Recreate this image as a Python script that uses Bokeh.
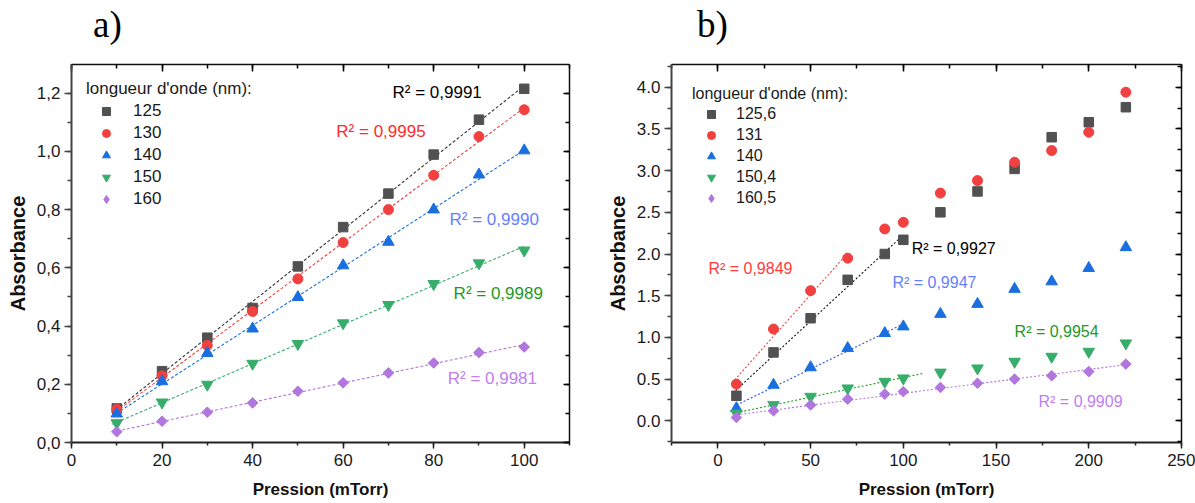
import numpy as np
from bokeh.plotting import figure
from bokeh.layouts import row, column
from bokeh.models import (LinearAxis, Range1d, SingleIntervalTicker,
                          CustomJSTickFormatter, NumeralTickFormatter, Label,
                          Legend, LegendItem, CustomLabelingPolicy, Div)
from bokeh.embed import file_html
from bokeh.resources import INLINE

FONT = "Liberation Sans"

# ---------------- panel a) data ----------------
a_pressure = [10, 20, 30, 40, 50, 60, 70, 80, 90, 100]
a_125 = [0.117, 0.245, 0.360, 0.462, 0.605, 0.740, 0.855, 0.989, 1.109, 1.215]
a_130 = [0.114, 0.229, 0.334, 0.450, 0.562, 0.687, 0.800, 0.918, 1.051, 1.143]
a_140 = [0.099, 0.210, 0.307, 0.391, 0.499, 0.608, 0.689, 0.800, 0.920, 1.003]
a_150 = [0.067, 0.138, 0.199, 0.271, 0.339, 0.410, 0.473, 0.545, 0.616, 0.660]
a_160 = [0.037, 0.073, 0.104, 0.136, 0.176, 0.205, 0.239, 0.273, 0.309, 0.328]
a_names = ["125", "130", "140", "150", "160"]
a_r2 = ["R² = 0,9991", "R² = 0,9995", "R² = 0,9990", "R² = 0,9989", "R² = 0,9981"]

# ---------------- panel b) data ----------------
b_pressure = [10, 30, 50, 70, 90, 100, 120, 140, 160, 180, 200, 220]
b_1256 = [0.30, 0.82, 1.23, 1.69, 2.00, 2.17, 2.50, 2.75, 3.02, 3.40, 3.58, 3.76]
b_131 = [0.44, 1.10, 1.56, 1.95, 2.30, 2.38, 2.73, 2.88, 3.10, 3.24, 3.46, 3.94]
b_140 = [0.15, 0.43, 0.64, 0.87, 1.05, 1.13, 1.28, 1.40, 1.58, 1.67, 1.83, 2.08]
b_1504 = [0.09, 0.19, 0.29, 0.39, 0.47, 0.51, 0.58, 0.63, 0.71, 0.77, 0.83, 0.93]
b_1605 = [0.04, 0.12, 0.19, 0.26, 0.32, 0.35, 0.40, 0.45, 0.50, 0.54, 0.59, 0.68]
b_names = ["125,6", "131", "140", "150,4", "160,5"]
b_r2 = ["R² = 0,9927", "R² = 0,9849", "R² = 0,9947", "R² = 0,9954", "R² = 0,9909"]
# number of points used in each linear fit, and x-extent of the drawn fit line
b_fit_npts = [6, 4, 6, 6, 12]
b_fit_span = [(8, 100), (9, 70), (10, 101), (10, 111), (10, 220)]

panel_tags = ["a)", "b)"]

# ---------------- styles ----------------
MARKERS = ["square", "circle", "triangle", "inverted_triangle", "square"]
ANGLES = [0, 0, 0, 0, np.pi / 4]
SIZES = [9.5, 10, 11.5, 11.5, 7.5]
MCOLORS = ["#515151", "#F14040", "#1A6FDF", "#37AD6B", "#B177DE"]

NO_LABELS = "for (const i of indices) { indices.unset(i) }\nreturn indices"
HEAD_H = 48
TOP = 64


def add_axes(p, xt, yt, yfmt):
    common = dict(major_label_text_font=FONT, major_label_text_font_size="17px",
                  major_label_text_color="#1a1a1a",
                  axis_label_text_font=FONT, axis_label_text_font_style="bold",
                  axis_label_text_color="#111111")
    bx = LinearAxis(ticker=SingleIntervalTicker(interval=xt, num_minor_ticks=2),
                    axis_label="Pression (mTorr)", axis_label_text_font_size="17px",
                    major_tick_in=0, major_tick_out=6, minor_tick_in=0, minor_tick_out=3,
                    major_label_standoff=5, axis_label_standoff=11,
                    axis_line_width=2, axis_line_color="#222222",
                    major_tick_line_width=1.5, minor_tick_line_width=1.5,
                    major_tick_line_color="#222222", minor_tick_line_color="#222222",
                    **common)
    ly = LinearAxis(ticker=SingleIntervalTicker(interval=yt, num_minor_ticks=2),
                    axis_label="Absorbance", axis_label_text_font_size="20px",
                    formatter=yfmt,
                    major_tick_in=0, major_tick_out=7, minor_tick_in=0, minor_tick_out=4,
                    major_label_standoff=4, axis_label_standoff=5,
                    axis_line_width=2, axis_line_color="#444444",
                    major_tick_line_width=1.5, minor_tick_line_width=1.5,
                    major_tick_line_color="#444444", minor_tick_line_color="#444444",
                    **common)
    tx = LinearAxis(ticker=SingleIntervalTicker(interval=xt, num_minor_ticks=2),
                    major_tick_in=7, major_tick_out=0, minor_tick_in=4, minor_tick_out=0,
                    major_label_text_font_size="0px", major_label_standoff=0,
                    axis_label_standoff=0,
                    major_label_policy=CustomLabelingPolicy(code=NO_LABELS),
                    axis_line_width=1.5, axis_line_color="#111111",
                    major_tick_line_width=1.5, minor_tick_line_width=1.5)
    ry = LinearAxis(ticker=SingleIntervalTicker(interval=yt, num_minor_ticks=2),
                    major_tick_in=6, major_tick_out=0, minor_tick_in=4, minor_tick_out=0,
                    major_label_text_font_size="0px", major_label_standoff=0,
                    axis_label_standoff=0,
                    major_label_policy=CustomLabelingPolicy(code=NO_LABELS),
                    axis_line_width=1.5, axis_line_color="#111111",
                    major_tick_line_width=1.5, minor_tick_line_width=1.5)
    p.add_layout(bx, "below")
    p.add_layout(ly, "left")
    p.add_layout(tx, "above")
    p.add_layout(ry, "right")


def make_legend(renderers, names, margin, glyph_w, standoff, spacing, tstand, fs):
    items = [LegendItem(label=n, renderers=[r]) for n, r in zip(names, renderers)]
    return Legend(items=items, title="longueur d'onde (nm):", location="top_left",
                  margin=margin, padding=0, spacing=spacing,
                  glyph_width=glyph_w, glyph_height=20, label_height=20,
                  label_standoff=standoff, title_standoff=tstand,
                  border_line_color=None, background_fill_alpha=0,
                  label_text_font=FONT, label_text_font_size=fs,
                  label_text_color="#1a1a1a",
                  title_text_font=FONT, title_text_font_size=fs,
                  title_text_font_style="normal", title_text_color="#1a1a1a")


def header(width, tag, left_px):
    html = ('<div style="font-family:\'Liberation Serif\',serif;font-size:37px;'
            'line-height:37px;padding:6px 0 0 %dpx;color:#000000;white-space:nowrap;">%s</div>'
            % (left_px, tag))
    return Div(text=html, width=width, height=HEAD_H, margin=(0, 0, 0, 0))


def base_fig(width, xr, yr, bl, br):
    p = figure(width=width, height=503 - HEAD_H, x_range=xr, y_range=yr,
               output_backend="svg", toolbar_location=None, title=None,
               x_axis_type=None, y_axis_type=None,
               min_border_left=bl, min_border_right=br, min_border_top=TOP - HEAD_H,
               min_border_bottom=61)
    p.outline_line_color = None
    p.background_fill_color = "white"
    p.border_fill_color = "white"
    return p


def draw_markers(p, xs, series):
    rends = []
    for i, (ys, m, ang, s, c) in enumerate(zip(series, MARKERS, ANGLES, SIZES, MCOLORS)):
        if ang:
            # diamond glyph (drawn underneath, hidden by the rotated square) used for the legend
            leg = p.scatter(xs, ys, marker="diamond", size=9, fill_color=c, line_color=c)
            p.scatter(xs, ys, marker=m, angle=ang, size=s, fill_color=c, line_color=c)
            rends.append(leg)
        else:
            rends.append(p.scatter(xs, ys, marker=m, size=s, fill_color=c, line_color=c))
    return rends


# ================= panel a =================
pa = base_fig(600, Range1d(0, 110), Range1d(0, 1.2985), 71, 31)
add_axes(pa, 20, 0.2, CustomJSTickFormatter(code="return tick.toFixed(1).replace('.', ',');"))

a_series = [a_125, a_130, a_140, a_150, a_160]
a_line_colors = ["#333333", "#F14040", "#1A6FDF", "#37AD6B", "#B177DE"]
a_text_colors = ["#000000", "#FF2B2B", "#6680FF", "#1E9A1E", "#C080F0"]
a_text_pos = [(70.9, 1.203), (58.5, 1.070), (83.5, 0.767), (84.4, 0.512), (83.1, 0.219)]

xa = np.array(a_pressure, dtype=float)
for ys, lc in zip(a_series, a_line_colors):
    k, b = np.polyfit(xa, np.array(ys), 1)
    xs = np.array([9.0, 100.0])
    pa.line(xs, k * xs + b, line_color=lc, line_width=1.1, line_dash="3 2")

a_rend = draw_markers(pa, a_pressure, a_series)

for t, (tx_, ty_), c in zip(a_r2, a_text_pos, a_text_colors):
    pa.add_layout(Label(x=tx_, y=ty_, text=t, text_font=FONT, text_font_size="17px",
                        text_color=c, text_baseline="middle", text_align="left"))

pa.add_layout(make_legend(a_rend, a_names, 15, 40, 7, 2, 2, "17px"))
ha = header(600, panel_tags[0], 93)

# ================= panel b =================
pb = base_fig(595, Range1d(-25, 250), Range1d(-0.26, 4.272), 71, 14)
add_axes(pb, 50, 0.5, NumeralTickFormatter(format="0.0"))

b_series = [b_1256, b_131, b_140, b_1504, b_1605]
b_line_colors = ["#111111", "#F14040", "#2255EE", "#1E9A1E", "#B177DE"]
b_text_colors = ["#000000", "#FF3B3B", "#6680FF", "#1E9A1E", "#C080F0"]
b_text_pos = [(104.5, 2.068), (-5.1, 1.832), (94.1, 1.66), (160.0, 1.068), (172.9, 0.232)]

xb = np.array(b_pressure, dtype=float)
for ys, lc, n, (x0, x1) in zip(b_series, b_line_colors, b_fit_npts, b_fit_span):
    k, b = np.polyfit(xb[:n], np.array(ys[:n]), 1)
    xs = np.array([x0, x1], dtype=float)
    pb.line(xs, k * xs + b, line_color=lc, line_width=1.1, line_dash="2 2")

b_rend = draw_markers(pb, b_pressure, b_series)

for t, (tx_, ty_), c in zip(b_r2, b_text_pos, b_text_colors):
    pb.add_layout(Label(x=tx_, y=ty_, text=t, text_font=FONT, text_font_size="16px",
                        text_color=c, text_baseline="middle", text_align="left"))

pb.add_layout(make_legend(b_rend, b_names, 21, 38, 6, 1, 1, "16px"))
hb = header(595, panel_tags[1], 97)

layout = row(column(ha, pa, spacing=0), column(hb, pb, spacing=0), spacing=0)
open("out.html", "w").write(file_html(layout, INLINE))
